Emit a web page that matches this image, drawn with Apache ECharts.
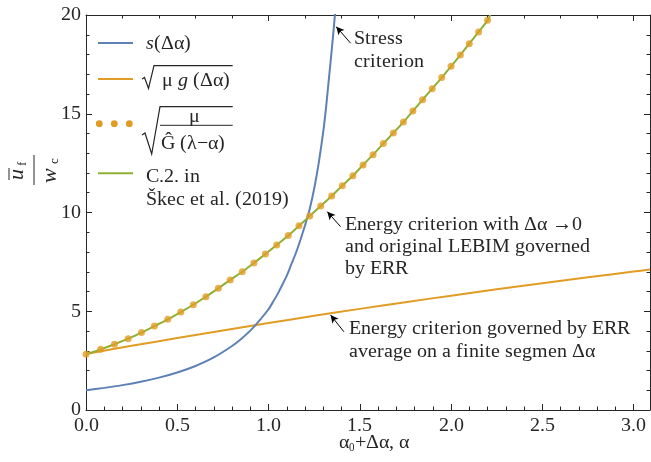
<!DOCTYPE html>
<html><head><meta charset="utf-8">
<script src="https://cdn.jsdelivr.net/npm/echarts@6/dist/echarts.min.js"></script>
<style>
@font-face { font-family: 'PlotSerif'; src: local('Liberation Serif'), local('LiberationSerif'), local('LiberationSerif-Regular'); font-style: normal; }
@font-face { font-family: 'PlotSerif'; src: local('Liberation Serif Italic'), local('LiberationSerif-Italic'); font-style: italic; }
html,body{margin:0;padding:0;background:#fff;font-family:'Liberation Serif'}#c{width:651px;height:462px}
</style>
</head><body><div id="c"></div>
<script>
// ---- data ----
const blueX = [0, 0.1, 0.2, 0.3, 0.4, 0.5, 0.6, 0.7, 0.8, 0.85, 0.9, 0.95, 1.0, 1.025, 1.05, 1.075, 1.1, 1.125, 1.15, 1.175, 1.2, 1.225, 1.25, 1.275, 1.3, 1.315, 1.33, 1.345, 1.36, 1.375];
const blueY = [1.00, 1.12, 1.26, 1.43, 1.64, 1.90, 2.23, 2.66, 3.24, 3.60, 4.02, 4.53, 5.10, 5.48, 5.88, 6.33, 6.80, 7.38, 7.95, 8.62, 9.35, 10.15, 11.2, 12.5, 14.1, 15.3, 16.7, 18.1, 19.6, 21.3];

const orangeX = [0, 0.25, 0.5, 0.75, 1.0, 1.25, 1.5, 1.75, 2.0, 2.25, 2.5, 2.75, 3.0, 3.09];
const orangeY = [2.84, 3.25, 3.64, 4.03, 4.40, 4.77, 5.12, 5.46, 5.79, 6.11, 6.42, 6.72, 7.01, 7.11];

const dotsX = [0, 0.080, 0.156, 0.231, 0.304, 0.375, 0.448, 0.519, 0.588, 0.657, 0.725, 0.790, 0.856, 0.920, 0.983, 1.045, 1.108, 1.167, 1.226, 1.286, 1.346, 1.404, 1.462, 1.518, 1.573, 1.629, 1.684, 1.739, 1.791, 1.844, 1.897, 1.949, 2.000, 2.051, 2.100, 2.151, 2.200];
const dotsY = [2.82, 3.07, 3.33, 3.61, 3.92, 4.25, 4.59, 4.96, 5.33, 5.74, 6.16, 6.58, 7.00, 7.44, 7.90, 8.35, 8.83, 9.33, 9.82, 10.33, 10.84, 11.36, 11.86, 12.41, 12.93, 13.49, 14.03, 14.58, 15.14, 15.71, 16.27, 16.83, 17.40, 17.97, 18.55, 19.14, 19.73];
const greenX = dotsX.concat([2.215]);
const greenY = dotsY.concat([20.0]);

const xTickLabels = ['0.0', '0.5', '1.0', '1.5', '2.0', '2.5', '3.0'];
const yTickLabels = ['0', '5', '10', '15', '20'];

const legendNames = ['s(Δα)', '√(μ g(Δα))', '√(μ/Ĝ(λ−α))', 'C.2. in Škec et al. (2019)'];
const annotations = {
  stress: 'Stress\ncriterion',
  energy1: 'Energy criterion with Δα →0\nand original LEBIM governed\nby ERR',
  energy2: 'Energy criterion governed by ERR\naverage on a finite segmen Δα'
};
// arrows: [tail, head] in data coordinates
const arrows = [
  [[1.450, 18.57], [1.371, 19.41]],
  [[1.395, 9.28], [1.322, 10.04]],
  [[1.413, 3.96], [1.340, 4.81]]
];

// ---- styling ----
const BLUE = '#5E81B5', ORANGE = '#E19C24', GREEN = '#8FB032';
const INK = '#262626';
const FONT = 'PlotSerif';
const FS = 20;

function zip(xs, ys) { return xs.map(function (x, i) { return [x, ys[i]]; }); }

function axisBase() {
  return {
    type: 'value',
    axisLine: { show: true, onZero: false, lineStyle: { color: INK, width: 1 } },
    axisTick: { show: true, inside: true, length: 6, lineStyle: { color: INK, width: 1 } },
    minorTick: { show: true, splitNumber: 5, length: 3.5, lineStyle: { color: INK, width: 1 } },
    splitLine: { show: false },
    minorSplitLine: { show: false }
  };
}

function txt(x, y, text, extra) {
  return { type: 'text', x: x, y: y,
    style: Object.assign({ text: text, fill: INK, fontFamily: FONT, fontSize: FS, verticalAlign: 'middle', align: 'left' }, extra || {}) };
}
function seg(x1, y1, x2, y2, color, w) {
  return { type: 'line', silent: true, shape: { x1: x1, y1: y1, x2: x2, y2: y2 }, style: { stroke: color, lineWidth: w } };
}
function poly(pts, w) {
  return { type: 'polyline', silent: true, shape: { points: pts }, style: { stroke: INK, lineWidth: w, fill: null } };
}

function buildOption() {
  const RI = { fontStyle: 'italic', fontFamily: FONT, fontSize: FS, fill: INK };
  const RN = { fontFamily: FONT, fontSize: FS, fill: INK };
  const graphics = [
    seg(98, 43, 133, 43, BLUE, 2),
    txt(146, 44, '{i|s}{n|(Δα)}', { rich: { i: RI, n: RN } }),
    seg(98, 79, 133, 79, ORANGE, 2),
    poly([[142, 79], [144.5, 77.5], [148.5, 88.5], [154, 65.7], [232.7, 65.7]], 1.2),
    txt(162, 81, '{n|μ }{i|g}{n| (Δα)}', { rich: { i: RI, n: RN } }),
    { type: 'circle', silent: true, shape: { cx: 99.3, cy: 123.7, r: 3.4 }, style: { fill: ORANGE } },
    { type: 'circle', silent: true, shape: { cx: 114.3, cy: 123.7, r: 3.4 }, style: { fill: ORANGE } },
    { type: 'circle', silent: true, shape: { cx: 129.3, cy: 123.7, r: 3.4 }, style: { fill: ORANGE } },
    poly([[142, 135], [145, 133], [151.7, 154], [160, 106.7], [232.7, 106.7]], 1.2),
    seg(160, 125.3, 232.7, 125.3, INK, 1),
    txt(194, 117, 'μ', { align: 'center' }),
    txt(161, 144, 'Ĝ (λ−α)'),
    seg(98, 173.3, 133, 173.3, GREEN, 2),
    txt(146, 176.5, 'C.2. in'),
    txt(146, 200, 'Škec et al. (2019)'),
    txt(354, 27.5, annotations.stress, { verticalAlign: 'top', lineHeight: 22.7 }),
    txt(345, 213.3, annotations.energy1, { verticalAlign: 'top', lineHeight: 22 }),
    txt(349, 317.7, annotations.energy2, { verticalAlign: 'top', lineHeight: 22.7 }),
    txt(374, 443, '{a|α}{s|0}{a|+Δα, α}', { align: 'center', rich: {
        a: { fontFamily: FONT, fontSize: FS, fill: INK },
        s: { fontFamily: FONT, fontSize: 11, fill: INK, padding: [10, 0, 0, 0] } } }),
    { type: 'group', x: 34, y: 170, rotation: Math.PI / 2, children: [
        txt(-4, -17, 'u', { align: 'center', fontStyle: 'italic', fontSize: 22 }),
        seg(-10, -25, 2, -25, INK, 1),
        txt(6, -11, 'f', { align: 'center', fontSize: 13 }),
        seg(-15, 0, 15, 0, INK, 1),
        txt(-5, 16, 'w', { align: 'center', fontStyle: 'italic', fontSize: 22 }),
        txt(9, 21, 'c', { align: 'center', fontSize: 13 })
    ] }
  ];

  const xb = Object.assign(axisBase(), {
    position: 'bottom', min: 0, max: 3.09, interval: 0.5,
    axisLabel: { show: true, margin: 6, color: INK, fontFamily: FONT, fontSize: FS, showMaxLabel: false,
      formatter: function (v) { const i = Math.round(v / 0.5); return Math.abs(v - i * 0.5) < 1e-6 ? xTickLabels[i] : ''; } }
  });
  const xt = Object.assign(axisBase(), { position: 'top', min: 0, max: 3.09, interval: 1, axisLabel: { show: false } });
  const yl = Object.assign(axisBase(), {
    position: 'left', min: 0, max: 20, interval: 5,
    axisLabel: { show: true, margin: 5, color: INK, fontFamily: FONT, fontSize: FS,
      formatter: function (v) { return yTickLabels[Math.round(v / 5)]; } }
  });
  const yr = Object.assign(axisBase(), { position: 'right', min: 0, max: 20, interval: 5, axisLabel: { show: false } });

  return {
    animation: false,
    textStyle: { fontFamily: FONT },
    grid: { left: 86, right: 1, top: 15, bottom: 52 },
    xAxis: [xb, xt],
    yAxis: [yl, yr],
    series: [
      { name: legendNames[0], type: 'line', data: zip(blueX, blueY), showSymbol: false, smooth: 0.2,
        lineStyle: { color: BLUE, width: 2 }, itemStyle: { color: BLUE }, clip: true, z: 3 },
      { name: legendNames[1], type: 'line', data: zip(orangeX, orangeY), showSymbol: false, smooth: 0.3,
        lineStyle: { color: ORANGE, width: 2 }, itemStyle: { color: ORANGE }, clip: true, z: 2 },
      { name: legendNames[3], type: 'line', data: zip(greenX, greenY), showSymbol: false, smooth: 0.3,
        lineStyle: { color: GREEN, width: 2 }, itemStyle: { color: GREEN }, clip: true, z: 4 },
      { name: legendNames[2], type: 'scatter', data: zip(dotsX, dotsY), symbol: 'circle', symbolSize: 7,
        itemStyle: { color: ORANGE }, z: 5,
        markLine: { silent: true, symbol: ['none', 'arrow'], symbolSize: [6, 8], animation: false,
          label: { show: false }, lineStyle: { color: '#000', width: 1, type: 'solid' },
          data: arrows.map(function (a) { return [{ coord: a[0] }, { coord: a[1] }]; }) } }
    ],
    graphic: graphics
  };
}

const myChart = echarts.init(document.getElementById('c'));
myChart.setOption(buildOption());
if (document.fonts && document.fonts.load) {
  Promise.all([document.fonts.load('20px PlotSerif'), document.fonts.load('italic 20px PlotSerif')])
    .then(function () { myChart.setOption(buildOption(), true); }, function () {});
}
</script>
</body></html>
